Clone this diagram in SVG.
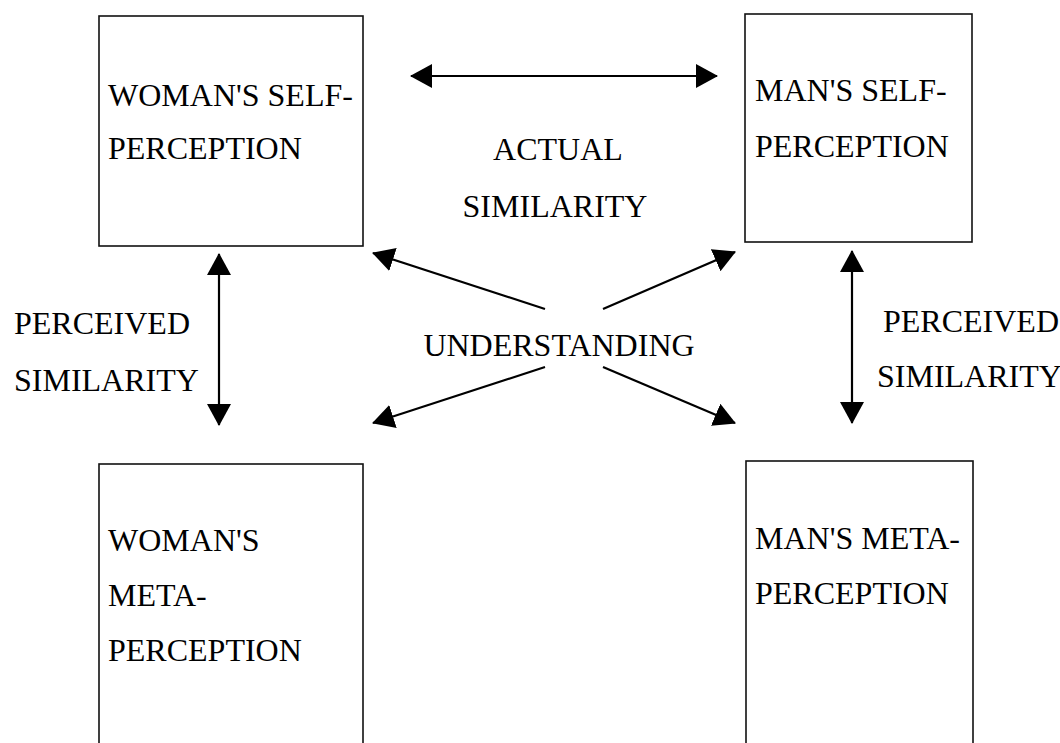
<svg xmlns="http://www.w3.org/2000/svg" width="1060" height="743" viewBox="0 0 1060 743">
<style>
.box{fill:#fff;stroke:#111;stroke-width:1.6}
.t{font-family:"Liberation Serif","Times New Roman",serif;font-size:32px;fill:#000}
.c{stroke:#000;stroke-width:2.2;fill:none;marker-start:url(#ah);marker-end:url(#ah)}
.c1{stroke:#000;stroke-width:2.2;fill:none;marker-end:url(#ah)}
</style>
<defs>
<marker id="ah" markerUnits="userSpaceOnUse" markerWidth="26" markerHeight="26" refX="21" refY="12" orient="auto-start-reverse" viewBox="0 0 26 26">
<path d="M0,0 L22,12 L0,24 Z" fill="#000"/>
</marker>
</defs>
<rect width="1060" height="743" fill="#fff"/>
<g id="woman-self">
<rect class="box" x="99" y="16" width="264" height="230"/>
<text class="t" x="108" y="106">WOMAN'S SELF-</text>
<text class="t" x="108" y="159">PERCEPTION</text>
</g>
<g id="man-self">
<rect class="box" x="745" y="14" width="227" height="228"/>
<text class="t" x="755" y="101">MAN'S SELF-</text>
<text class="t" x="755" y="157">PERCEPTION</text>
</g>
<g id="woman-meta">
<rect class="box" x="99" y="464" width="264" height="290"/>
<text class="t" x="108" y="551">WOMAN'S</text>
<text class="t" x="108" y="606">META-</text>
<text class="t" x="108" y="661">PERCEPTION</text>
</g>
<g id="man-meta">
<rect class="box" x="746" y="461" width="227" height="290"/>
<text class="t" x="755" y="549">MAN'S META-</text>
<text class="t" x="755" y="604">PERCEPTION</text>
</g>
<g id="labels">
<text class="t" x="558" y="160" text-anchor="middle">ACTUAL</text>
<text class="t" x="555" y="217" text-anchor="middle">SIMILARITY</text>
<text class="t" x="14" y="334">PERCEIVED</text>
<text class="t" x="14" y="391">SIMILARITY</text>
<text class="t" x="883" y="332">PERCEIVED</text>
<text class="t" x="877" y="387">SIMILARITY</text>
<text class="t" x="559" y="356" text-anchor="middle">UNDERSTANDING</text>
</g>
<g id="connectors">
<line class="c" x1="411" y1="76" x2="717" y2="76"/>
<line class="c" x1="219" y1="254" x2="219" y2="425"/>
<line class="c" x1="852" y1="251" x2="852" y2="423"/>
<line class="c1" x1="545" y1="309" x2="373" y2="253"/>
<line class="c1" x1="603" y1="309" x2="735" y2="252"/>
<line class="c1" x1="545" y1="367" x2="373" y2="423"/>
<line class="c1" x1="603" y1="367" x2="735" y2="423"/>
</g>
</svg>
